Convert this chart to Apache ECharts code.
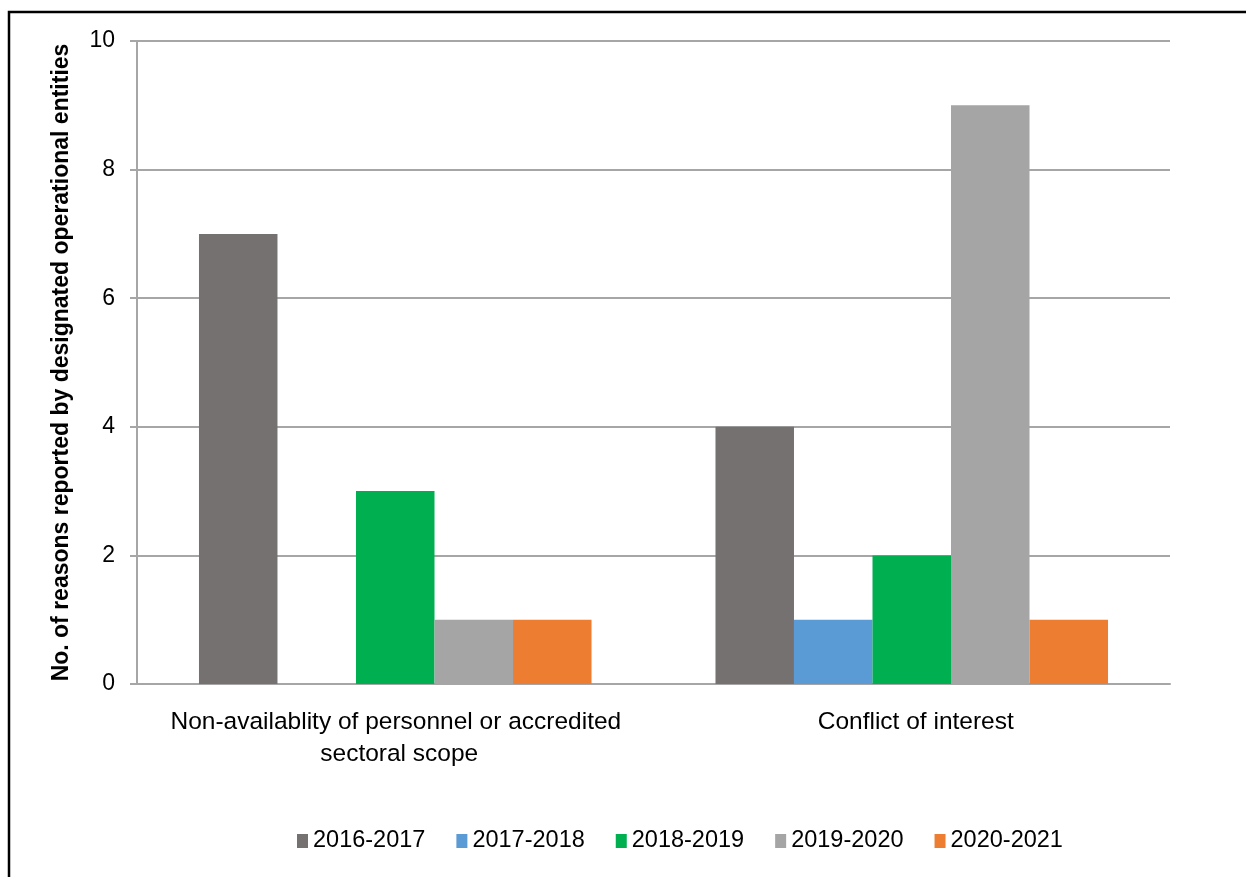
<!DOCTYPE html>
<html>
<head>
<meta charset="utf-8">
<script src="https://cdn.jsdelivr.net/npm/echarts@6/dist/echarts.min.js"></script>
<style>html,body{margin:0;padding:0;background:#fff}#c{width:1246px;height:877px}</style>
</head>
<body>
<div id="c"></div>
<script>
const categories = ["Non-availablity of personnel or accredited sectoral scope", "Conflict of interest"];
const seriesNames = ["2016-2017", "2017-2018", "2018-2019", "2019-2020", "2020-2021"];
const s2016 = [7, 4];
const s2017 = [0, 1];
const s2018 = [3, 2];
const s2019 = [1, 9];
const s2020 = [1, 1];
const yTicks = [0, 2, 4, 6, 8, 10];
const colors = ["#767171", "#5b9bd5", "#00b050", "#a5a5a5", "#ed7d31"];
const values = [s2016, s2017, s2018, s2019, s2020];
const FONT = "Liberation Sans";

const chart = echarts.init(document.getElementById('c'), null, {renderer: 'canvas'});
chart.setOption({
  animation: false,
  backgroundColor: '#fff',
  textStyle: {fontFamily: FONT},
  grid: {left: 137, right: 76, top: 41, bottom: 193, containLabel: false},
  legend: {
    left: 292, top: 824,
    itemWidth: 11, itemHeight: 14, itemGap: 31,
    icon: 'rect',
    textStyle: {fontSize: 23.5, color: '#000', fontFamily: FONT},
    data: seriesNames
  },
  xAxis: {
    type: 'category',
    data: categories,
    axisLine: {show: true, lineStyle: {color: '#a6a6a6', width: 2}},
    axisTick: {show: false},
    axisLabel: {color: '#000', fontSize: 24.5, margin: 22, lineHeight: 32, width: 480, overflow: 'break', interval: 0, padding: [0, 0, 0, 8]}
  },
  yAxis: {
    type: 'value',
    min: 0, max: 10, interval: 2,
    name: 'No. of reasons reported by designated operational entities',
    nameLocation: 'middle', nameGap: 64,
    nameTextStyle: {fontSize: 23, fontWeight: 'bold', color: '#000', fontFamily: FONT},
    axisLine: {show: true, lineStyle: {color: '#a6a6a6', width: 2}},
    axisTick: {show: true, length: 7, lineStyle: {color: '#a6a6a6', width: 2}},
    axisLabel: {color: '#000', fontSize: 23, margin: 22, formatter: v => yTicks.includes(v) ? String(v) : ''},
    splitLine: {show: true, lineStyle: {color: '#a6a6a6', width: 2}}
  },
  series: seriesNames.map((n, i) => ({
    name: n, type: 'bar', data: values[i],
    itemStyle: {color: colors[i]},
    barGap: '0%', barCategoryGap: '24%'
  })),
  graphic: [{
    type: 'rect', silent: true, z: 100,
    shape: {x: 9, y: 12, width: 1300, height: 1000},
    style: {fill: 'none', stroke: '#000', lineWidth: 2.5}
  }]
});
</script>
</body>
</html>
